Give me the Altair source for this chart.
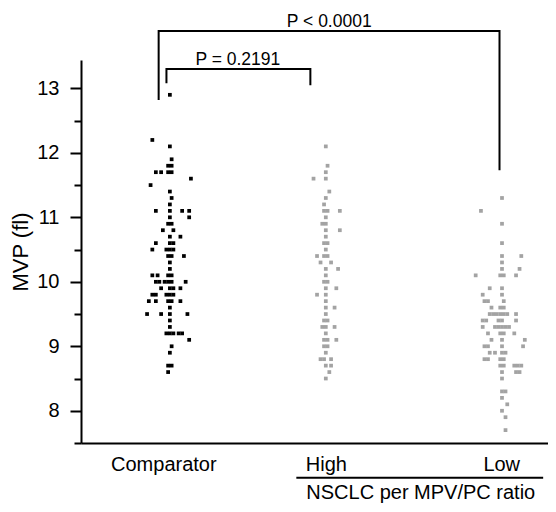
import altair as alt
import pandas as pd

# ---------------- data ----------------
GROUPS = ["Comparator", "High", "Low"]
GROUP_POS = [1.0, 2.0, 3.13]          # x position of each group's centre column
COLORS = ["#000000", "#a3a3a3", "#a3a3a3"]
COL_STEP = 0.0225                     # horizontal spread step between side-by-side points

# MVP levels (fl) and the side-by-side column offsets of points at each level
COMP_LEVELS = [12.9, 12.2, 12.1, 11.9, 11.8, 11.7, 11.6, 11.5, 11.4, 11.3, 11.2, 11.1, 11.0,
               10.9, 10.8, 10.7, 10.6, 10.5, 10.4, 10.3, 10.2, 10.1, 10.0, 9.9, 9.8, 9.7,
               9.6, 9.5, 9.4, 9.3, 9.2, 9.1, 9.0, 8.9, 8.7, 8.6]
COMP_COLS = [[0], [-5], [0], [0.5], [-0.5, 0.5], [-4, -2.5, -0.5, 0.5], [6], [-5.5], [0], [0.5],
             [0], [-4, 0, 3.5, 5.5], [0, 5.5], [-0.5, 0.5], [-2, 1], [0, 3], [-4, 0, 1],
             [-5, -1, 0, 1], [-0.5, 0.5, 4], [0], [0], [-5, -3.5, -0.5, 0.5],
             [-4, -3, -1.5, -0.5, 0.5, 4.5], [-2.5, 0, 1, 3], [-5, -4, -1, 0, 1],
             [-6, -4, -0.5, 0.5, 3], [0], [-6.5, -2.5, 0, 5], [0], [0], [-1, 0, 1, 2.5, 3.5],
             [5.5], [0.5], [0], [-0.5, 0.5], [-0.5]]

HIGH_LEVELS = [12.1, 11.8, 11.7, 11.6, 11.4, 11.3, 11.2, 11.1, 11.0, 10.9, 10.8, 10.7, 10.6,
               10.5, 10.4, 10.3, 10.2, 10.1, 10.0, 9.9, 9.8, 9.7, 9.6, 9.5, 9.4, 9.3, 9.2,
               9.1, 9.0, 8.9, 8.8, 8.7, 8.6, 8.5]
HIGH_COLS = [[0], [0.5], [0], [-3.5, 0], [1], [0], [-0.5], [-0.5, 0.5, 4], [0], [-1, 0], [0, 4],
             [0], [-0.5, 0.5], [0], [-2.5, -0.5, 0.5], [-1.5, 1.5], [0, 3.5], [0], [-0.5, 0.5],
             [0, 3], [-2.5, 0], [0], [0, 2.5], [0], [-0.5, 0.5], [-1, 0, 2.5], [0],
             [-0.5, 0.5, 3], [-0.5, 0.5], [0], [-1.5, -0.5, 1.5], [0, 1.5], [1], [0]]

LOW_LEVELS = [11.3, 11.1, 10.9, 10.6, 10.4, 10.3, 10.2, 10.1, 9.9, 9.8, 9.7, 9.6, 9.5, 9.4,
              9.3, 9.2, 9.1, 9.0, 8.9, 8.8, 8.7, 8.6, 8.5, 8.3, 8.2, 8.1, 8.0, 7.9, 7.7]
LOW_COLS = [[0], [-6], [0], [0], [0, 5.5], [0], [0, 5], [-7.5, -0.5, 0.5, 4], [-3.5, 0],
            [-5.5, 0], [-5, -4, 0.5], [-3, -0.5, 0.5], [-3.5, -2.5, -1.5, -0.5, 0.5, 1.5, 4],
            [-5.5, -4.5, -1, 0, 4], [-5.5, -2, -1, 0, 1, 2], [-4, -0.5, 0.5, 3.5], [-3, 0, 6.5],
            [-5, -4, 0, 6], [-3.5, -2, 0, 1], [-5, -4, -0.5, 0.5], [-0.5, 0.5, 3.5, 4.5, 5.5],
            [0, 4, 5], [0], [0, 1], [0], [1.5], [0], [1], [1]]

# axis ticks / labels
Y_TICKS = [7.5, 8, 8.5, 9, 9.5, 10, 10.5, 11, 11.5, 12, 12.5, 13]
X_LABEL_POS = [0.958, 2.0, 3.125]

# significance brackets
BRACKET_X = [[0.928, 0.928, 3.114, 3.114], [0.978, 0.978, 1.901, 1.901]]
BRACKET_Y = [[12.82, 13.89, 13.89, 11.73], [13.08, 13.30, 13.30, 13.05]]
P_TEXT = ["P < 0.0001", "P = 0.2191"]
P_TEXT_X = [2.022, 1.436]
P_TEXT_Y = [13.955, 13.362]

# group annotation under the axis
GROUP_NOTE = "NSCLC per MPV/PC ratio"
GROUP_NOTE_X = [1.811, 3.394]
GROUP_NOTE_LINE_Y = 6.96
GROUP_NOTE_TEXT_X = 2.609
GROUP_NOTE_TEXT_Y = 6.63

# ---------------- tables ----------------
rows = []
for g, pos, levels, cols in zip(GROUPS, GROUP_POS,
                                [COMP_LEVELS, HIGH_LEVELS, LOW_LEVELS],
                                [COMP_COLS, HIGH_COLS, LOW_COLS]):
    for v, cs in zip(levels, cols):
        for c in cs:
            rows.append({"group": g, "xv": pos + c * COL_STEP, "yv": v})
pts = pd.DataFrame(rows)

brows = []
for b, (bx, by) in enumerate(zip(BRACKET_X, BRACKET_Y)):
    for k, (xx, yy) in enumerate(zip(bx, by)):
        brows.append({"bracket": b, "k": k, "xv": xx, "yv": yy})
br = pd.DataFrame(brows)

ptxt = pd.DataFrame({"xv": P_TEXT_X, "yv": P_TEXT_Y, "label": P_TEXT})
uline = pd.DataFrame({"xv": [GROUP_NOTE_X[0]], "xv2": [GROUP_NOTE_X[1]], "yv": [GROUP_NOTE_LINE_Y]})
ntxt = pd.DataFrame({"xv": [GROUP_NOTE_TEXT_X], "yv": [GROUP_NOTE_TEXT_Y], "label": [GROUP_NOTE]})

# ---------------- scales / axes ----------------
xs = alt.Scale(domain=[0.43, 3.425], nice=False, zero=False)
ys = alt.Scale(domain=[7.5, 13.44], nice=False, zero=False)

label_expr = ("datum.value < 1.5 ? 'Comparator' : (datum.value < 2.5 ? 'High' : 'Low')")
xaxis = alt.Axis(values=X_LABEL_POS, labelExpr=label_expr, ticks=False, tickSize=0,
                 domainColor="black", domainWidth=2, labelColor="black", labelFontSize=20,
                 labelPadding=11, labelFlush=False, grid=False, title=None)
yaxis = alt.Axis(values=Y_TICKS,
                 labelExpr="datum.value % 1 === 0 ? format(datum.value, 'd') : ''",
                 tickSize={"condition": {"test": "datum.value % 1 !== 0", "value": 7}, "value": 11},
                 tickWidth=2, tickColor="black", domainColor="black", domainWidth=2,
                 labelColor="black", labelFontSize=20, labelPadding=11, grid=False,
                 title="MVP (fl)", titleFontSize=22, titleFontWeight="normal", titleColor="black",
                 titleX=-54, titleY=191.5, titleBaseline="alphabetic", titleAlign="center")

X = alt.X("xv:Q", scale=xs, axis=xaxis)
Y = alt.Y("yv:Q", scale=ys, axis=yaxis)

points = alt.Chart(pts).mark_square(size=14, opacity=1).encode(
    x=X, y=Y,
    color=alt.Color("group:N", scale=alt.Scale(domain=GROUPS, range=COLORS), legend=None),
)

brackets = alt.Chart(br).mark_line(color="black", strokeWidth=2).encode(
    x=X, y=Y, detail="bracket:N", order="k:Q"
)

ptext = alt.Chart(ptxt).mark_text(fontSize=17.5, baseline="alphabetic", align="center",
                                  color="black").encode(x=X, y=Y, text="label:N")

underline = alt.Chart(uline).mark_rule(color="black", strokeWidth=2).encode(
    x=X, x2="xv2:Q", y=Y
)

ntext = alt.Chart(ntxt).mark_text(fontSize=20, baseline="alphabetic", align="center",
                                  color="black").encode(x=X, y=Y, text="label:N")

chart = alt.layer(points, brackets, ptext, underline, ntext).properties(
    width=467, height=383,
    autosize=alt.AutoSizeParams(type="none"),
    padding={"left": 73, "top": 52, "right": 0, "bottom": 61},
).configure(font="Liberation Sans").configure_view(stroke=None)

chart.save("out.html", embed_options={"renderer": "svg", "actions": False})
